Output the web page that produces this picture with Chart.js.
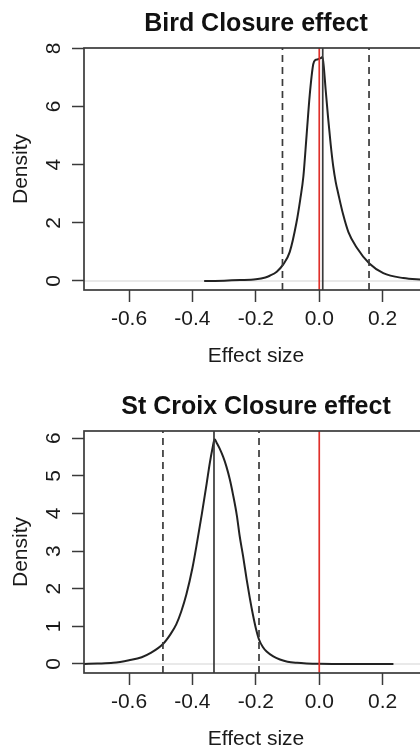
<!DOCTYPE html>
<html>
<head>
<meta charset="utf-8">
<script src="https://cdn.jsdelivr.net/npm/chart.js@4.4.1/dist/chart.umd.min.js"></script>
<style>
  html, body { margin: 0; padding: 0; background: #fff; overflow: hidden; width: 420px; height: 746px; }
  .panel { position: absolute; left: 0; }
  #birdPanel { top: 0; }
  #croixPanel { top: 383px; }
</style>
</head>
<body>
<canvas id="birdPanel" class="panel" width="512" height="370"></canvas>
<canvas id="croixPanel" class="panel" width="512" height="370"></canvas>
<script>
// shared x axis (the right side of the plot box falls just outside the picture)
const X_MIN = -0.742, X_MAX = 0.343;
const xTickValues = [-0.6, -0.4, -0.2, 0, 0.2];
const nullEffect = 0;

// Bird Closure effect
const birdEffect  = [-0.363, -0.30, -0.25, -0.20, -0.17, -0.156, -0.134, -0.113, -0.093, -0.072, -0.06, -0.05, -0.04, -0.03, -0.019, -0.012, -0.004, 0.004, 0.010, 0.014, 0.020, 0.028, 0.036, 0.044, 0.052, 0.060, 0.075, 0.092, 0.118, 0.158, 0.202, 0.265, 0.318, 0.38];
const birdDensity = [0, 0.01, 0.03, 0.06, 0.12, 0.18, 0.32, 0.58, 1.0, 2.0, 2.8, 3.6, 5.0, 6.4, 7.45, 7.6, 7.62, 7.66, 7.7, 7.4, 6.6, 5.6, 4.7, 3.95, 3.4, 3.0, 2.3, 1.68, 1.15, 0.6, 0.27, 0.1, 0.05, 0.02];
const birdYTicks = [0, 2, 4, 6, 8];
const birdYRange = [-0.31, 8.01];
const birdInterval = [-0.116, 0.157];
const birdMean = 0.011;

// St Croix Closure effect
const croixEffect  = [-0.742, -0.70, -0.65, -0.60, -0.56, -0.53, -0.493, -0.47, -0.451, -0.435, -0.419, -0.40, -0.385, -0.37, -0.355, -0.345, -0.337, -0.330, -0.322, -0.314, -0.303, -0.293, -0.282, -0.272, -0.26, -0.251, -0.24, -0.229, -0.219, -0.209, -0.20, -0.19, -0.178, -0.166, -0.145, -0.124, -0.10, -0.07, -0.04, 0.0, 0.1, 0.234];
const croixDensity = [0, 0.01, 0.03, 0.1, 0.18, 0.3, 0.53, 0.78, 1.05, 1.40, 1.85, 2.55, 3.25, 4.0, 4.8, 5.35, 5.72, 5.97, 5.85, 5.72, 5.5, 5.25, 4.9, 4.5, 3.95, 3.4, 2.85, 2.25, 1.75, 1.3, 0.95, 0.65, 0.45, 0.33, 0.2, 0.12, 0.06, 0.03, 0.015, 0.005, 0, 0];
const croixYTicks = [0, 1, 2, 3, 4, 5, 6];
const croixYRange = [-0.24, 6.19];
const croixInterval = [-0.493, -0.19];
const croixMean = -0.332;

Chart.defaults.font.family = '"Liberation Sans", Arial, Helvetica, sans-serif';
const TEXT = '#1a1a1a';
const INK = '#3a3a3a';

const boxPlugin = {
  id: 'box',
  afterDatasetsDraw(chart) {
    const { ctx, chartArea: a } = chart;
    ctx.save();
    ctx.strokeStyle = INK;
    ctx.lineWidth = 1.7;
    ctx.strokeRect(a.left, a.top, a.right - a.left, a.bottom - a.top);
    ctx.restore();
  }
};

function vline(x, range, color, dash) {
  return {
    data: [{ x, y: range[0] }, { x, y: range[1] }],
    showLine: true, pointRadius: 0,
    borderColor: color, borderWidth: 1.7, borderDash: dash || []
  };
}

function makePanel(id, title, xs, ys, yTicks, yRange, interval, mean) {
  const curve = xs.map((x, i) => ({ x, y: ys[i] }));
  new Chart(document.getElementById(id), {
    type: 'scatter',
    data: {
      datasets: [
        vline(nullEffect, yRange, '#e0302a'),
        vline(mean, yRange, INK),
        vline(interval[0], yRange, INK, [7, 5]),
        vline(interval[1], yRange, INK, [7, 5]),
        { data: curve, showLine: true, pointRadius: 0, borderColor: '#222', borderWidth: 2, cubicInterpolationMode: 'monotone' },
        { data: [{ x: X_MIN, y: 0 }, { x: X_MAX, y: 0 }], showLine: true, pointRadius: 0, borderColor: '#e2e2e2', borderWidth: 1.5 }
      ]
    },
    options: {
      responsive: false,
      animation: false,
      events: [],
      layout: { padding: { left: 0, right: 84, top: 0, bottom: 0 } },
      plugins: {
        legend: { display: false },
        tooltip: { enabled: false },
        title: { display: true, fullSize: false, text: title, color: '#111', font: { size: 25, weight: 'bold' }, padding: { top: 9, bottom: 9 } }
      },
      scales: {
        x: {
          type: 'linear', min: X_MIN, max: X_MAX,
          afterBuildTicks: s => { s.ticks = xTickValues.map(v => ({ value: v })); },
          afterFit: s => { s.height = 80; },
          border: { display: false },
          grid: { drawOnChartArea: false, drawTicks: true, tickLength: 12, tickColor: INK, tickWidth: 1.5 },
          ticks: { padding: 5, color: TEXT, font: { size: 21 }, maxRotation: 0, autoSkip: false, callback: v => Number(v).toFixed(1) },
          title: { display: true, text: 'Effect size', color: TEXT, font: { size: 21 }, padding: { top: 0, bottom: 1 } }
        },
        y: {
          type: 'linear', min: yRange[0], max: yRange[1],
          afterBuildTicks: s => { s.ticks = yTicks.map(v => ({ value: v })); },
          afterFit: s => { s.width = 84; },
          border: { display: false },
          grid: { drawOnChartArea: false, drawTicks: true, tickLength: 12, tickColor: INK, tickWidth: 1.5 },
          ticks: { padding: 12, crossAlign: 'center', minRotation: 90, maxRotation: 90, autoSkip: false, color: TEXT, font: { size: 21 }, callback: v => String(v) },
          title: { display: true, text: 'Density', color: TEXT, font: { size: 21 }, padding: { top: 9, bottom: 0 } }
        }
      }
    },
    plugins: [boxPlugin]
  });
}

makePanel('birdPanel', 'Bird Closure effect', birdEffect, birdDensity, birdYTicks, birdYRange, birdInterval, birdMean);
makePanel('croixPanel', 'St Croix Closure effect', croixEffect, croixDensity, croixYTicks, croixYRange, croixInterval, croixMean);
</script>
</body>
</html>
